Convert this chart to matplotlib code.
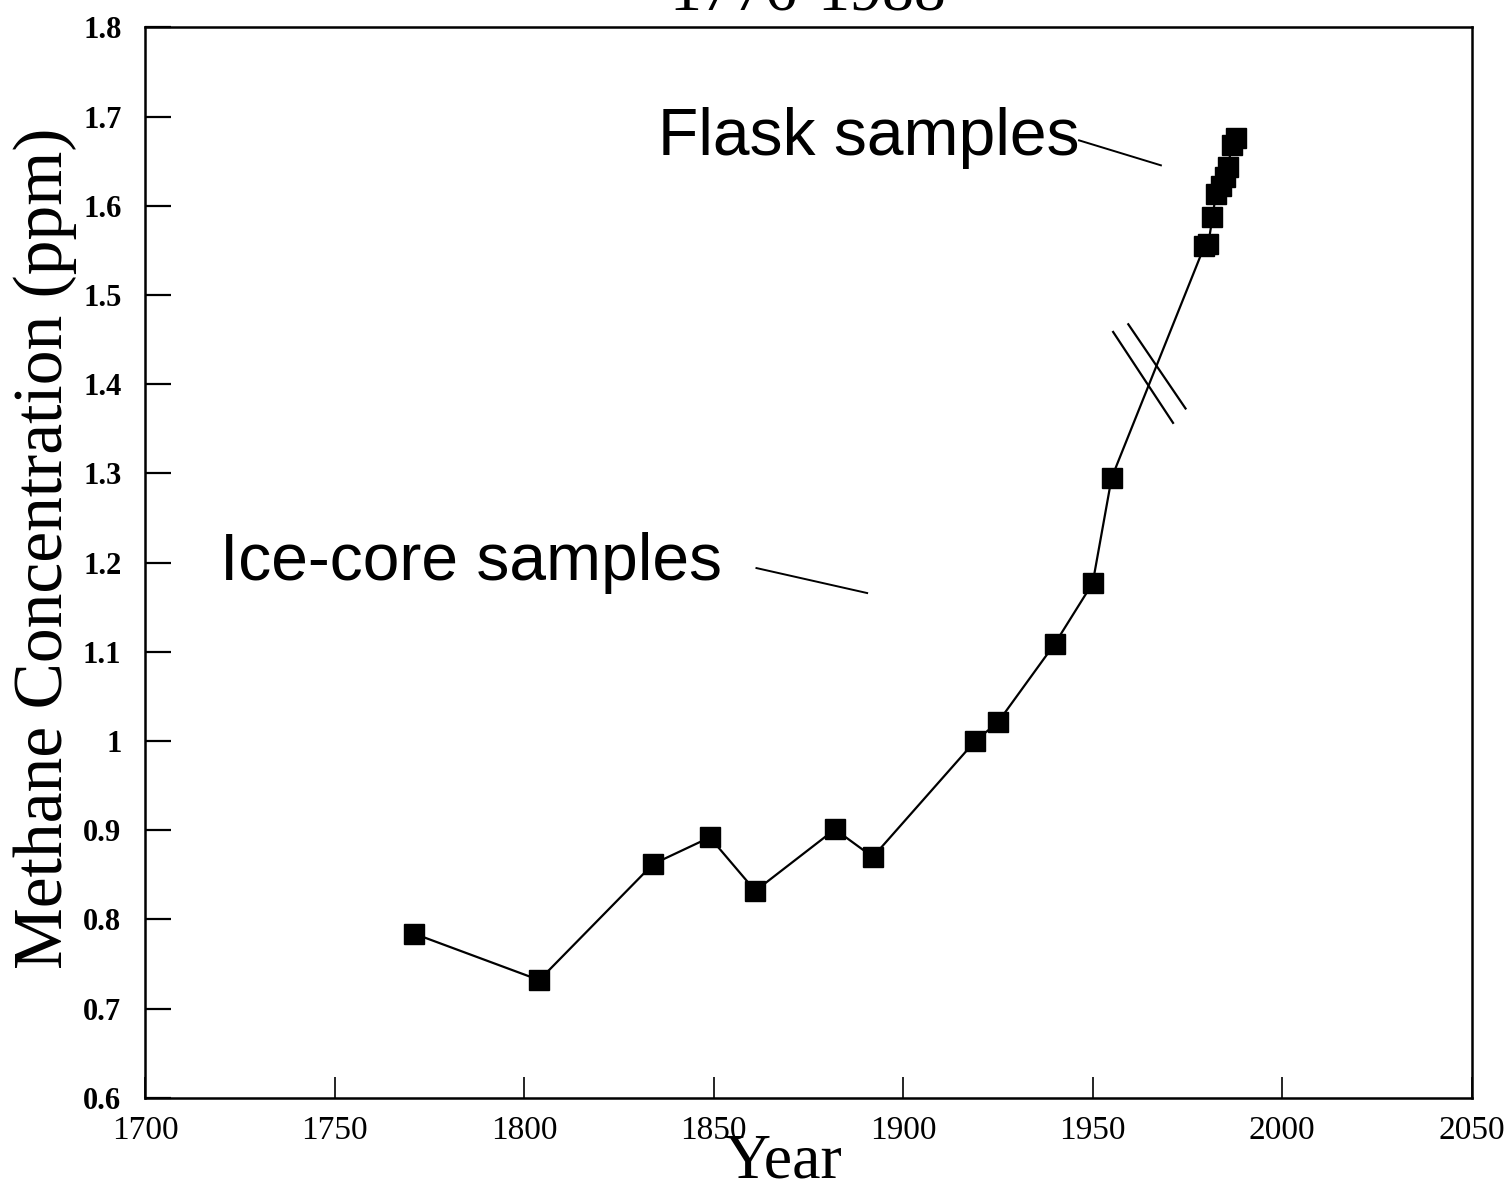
import matplotlib
matplotlib.use("Agg")
import matplotlib.pyplot as plt
from matplotlib.ticker import FormatStrFormatter, FuncFormatter

# Ice-core samples (year, ppm)
ice_years = [1771, 1804, 1834, 1849, 1861, 1882, 1892, 1919, 1925, 1940, 1950, 1955]
ice_ppm = [0.784, 0.732, 0.862, 0.892, 0.832, 0.901, 0.870, 1.000, 1.021, 1.109, 1.177, 1.295]

# Flask samples (year, ppm)
flask_years = [1979.5, 1980.5, 1981.6, 1982.5, 1983.8, 1984.8, 1985.7, 1986.7, 1987.8]
flask_ppm = [1.555, 1.557, 1.587, 1.613, 1.622, 1.632, 1.643, 1.668, 1.676]

x_ticks = [1700, 1750, 1800, 1850, 1900, 1950, 2000, 2050]
y_ticks = [0.6, 0.7, 0.8, 0.9, 1.0, 1.1, 1.2, 1.3, 1.4, 1.5, 1.6, 1.7, 1.8]

SERIF = "Liberation Serif"
SANS = "Liberation Sans"

fig = plt.figure(figsize=(15.11, 11.92), dpi=100)
ax = fig.add_axes([0.096, 0.079, 0.878, 0.898])

years = ice_years + flask_years
ppm = ice_ppm + flask_ppm
ax.plot(years, ppm, color="black", lw=1.6, zorder=2)
ax.plot(years, ppm, ls="none", marker="s", ms=15, color="black", zorder=3)

# break marks on the connecting segment
ax.plot([1955.4, 1971.2], [1.4586, 1.3567], color="black", lw=1.6)
ax.plot([1959.4, 1974.5], [1.4672, 1.3728], color="black", lw=1.6)

# labels with leader lines
ax.text(1835.2, 1.6566, "Flask samples", family=SANS, fontsize=47.5,
        ha="left", va="baseline")
ax.plot([1946.4, 1968.0], [1.6734, 1.6454], color="black", lw=1.4)
ax.text(1719.8, 1.1804, "Ice-core samples", family=SANS, fontsize=47.5,
        ha="left", va="baseline")
ax.plot([1861.3, 1890.5], [1.1939, 1.1659], color="black", lw=1.4)

ax.set_xlim(1700, 2050)
ax.set_ylim(0.6, 1.8)
ax.set_xticks(x_ticks)
ax.set_yticks(y_ticks)
ax.yaxis.set_major_formatter(FuncFormatter(lambda v, p: "%g" % round(v, 2)))
ax.xaxis.set_major_formatter(FormatStrFormatter("%d"))

ax.tick_params(axis="y", direction="in", length=19, width=1.6, pad=17,
               labelsize=22)
ax.tick_params(axis="x", direction="in", length=15, width=1.2, pad=13,
               labelsize=24)
for lab in ax.get_yticklabels():
    lab.set_family(SERIF)
    lab.set_fontweight("bold")
for lab in ax.get_xticklabels():
    lab.set_family(SERIF)
for sp in ax.spines.values():
    sp.set_linewidth(1.8)

# title mostly cut off at the top edge, as in the scan
fig.text(808 / 1511, 1 - 10 / 1192, "1776-1988", family=SERIF, fontsize=46,
         ha="center", va="baseline")
fig.text(783 / 1511, 1 - 1178 / 1192, "Year", family=SERIF, fontsize=46,
         ha="center", va="baseline")
fig.text(45 / 1511, 1 - 548 / 1192, "Methane Concentration (ppm)",
         family=SERIF, fontsize=50, rotation=90, ha="center", va="center")

fig.savefig("out.png", dpi=100)
